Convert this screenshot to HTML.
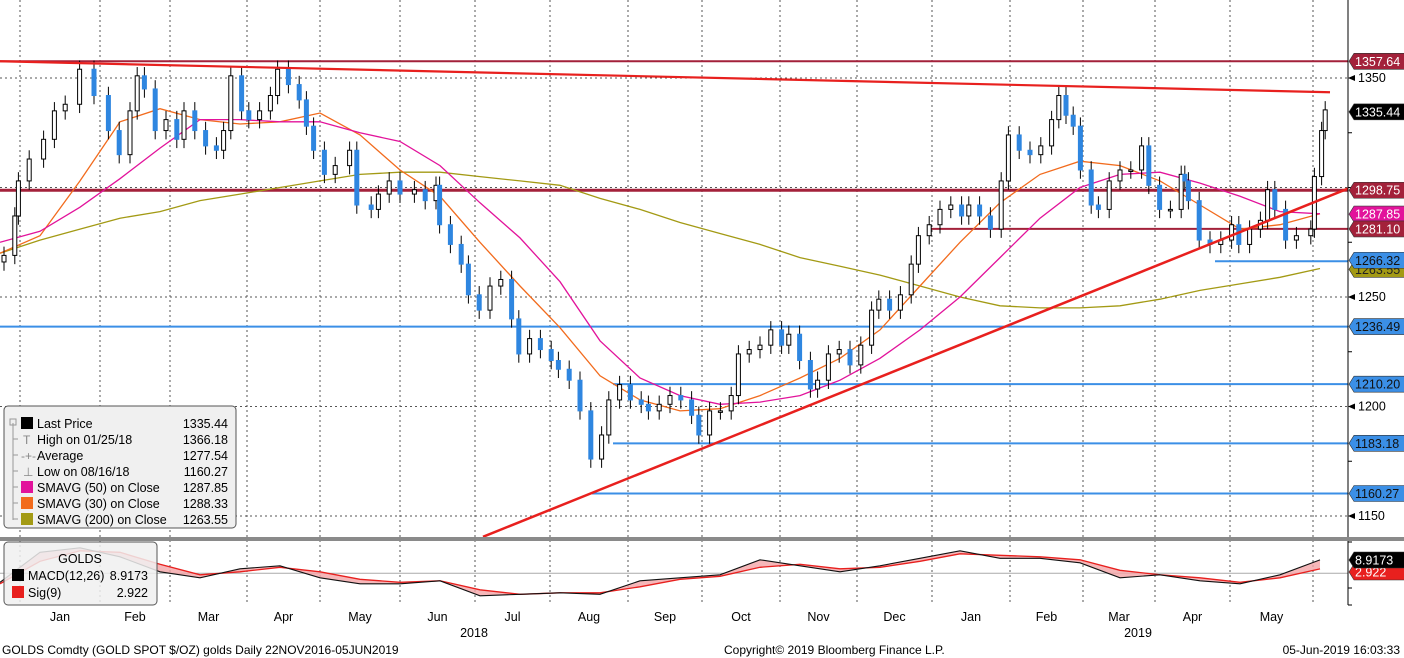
<!DOCTYPE html>
<html><head><meta charset="utf-8">
<style>
body{margin:0;background:#fff;}
svg{display:block;font-family:"Liberation Sans",sans-serif;}
</style></head>
<body>
<svg id="chart" width="1404" height="658" viewBox="0 0 1404 658" xmlns="http://www.w3.org/2000/svg">
<rect x="0" y="0" width="1404" height="658" fill="#fff"/>
<g id="grid"></g>
<g id="levels"></g>
<g id="mas"></g>
<g id="bars"></g>
<g id="trend"></g>
<g id="macd"></g>
<g id="axis"></g>
<g id="xaxis"></g>

<g>
  <rect x="4" y="406" width="232" height="122" rx="4" fill="#f0f0f0" stroke="#555" stroke-width="1"/>
  <path d="M13 423 V520 M13 439 h5 M13 455 h5 M13 471 h5 M13 487 h5 M13 503 h5 M13 519 h5" stroke="#999" stroke-width="1" fill="none"/>
  <rect x="10" y="419" width="6" height="6" fill="none" stroke="#999"/>
  <rect x="21" y="417" width="12" height="12" fill="#000"/>
  <text x="37" y="428" font-size="12.5">Last Price</text><text x="228" y="428" font-size="12.5" text-anchor="end">1335.44</text>
  <text x="23" y="444" font-size="12" fill="#888">T</text>
  <text x="37" y="444" font-size="12.5">High on 01/25/18</text><text x="228" y="444" font-size="12.5" text-anchor="end">1366.18</text>
  <text x="21" y="460" font-size="12" fill="#888">-+-</text>
  <text x="37" y="460" font-size="12.5">Average</text><text x="228" y="460" font-size="12.5" text-anchor="end">1277.54</text>
  <text x="23" y="476" font-size="12" fill="#888">⊥</text>
  <text x="37" y="476" font-size="12.5">Low on 08/16/18</text><text x="228" y="476" font-size="12.5" text-anchor="end">1160.27</text>
  <rect x="21" y="481" width="12" height="12" fill="#e2139b"/>
  <text x="37" y="492" font-size="12.5">SMAVG (50)  on Close</text><text x="228" y="492" font-size="12.5" text-anchor="end">1287.85</text>
  <rect x="21" y="497" width="12" height="12" fill="#f26b1d"/>
  <text x="37" y="508" font-size="12.5">SMAVG (30)  on Close</text><text x="228" y="508" font-size="12.5" text-anchor="end">1288.33</text>
  <rect x="21" y="513" width="12" height="12" fill="#a39a14"/>
  <text x="37" y="524" font-size="12.5">SMAVG (200)  on Close</text><text x="228" y="524" font-size="12.5" text-anchor="end">1263.55</text>
</g>

<g>
  <text x="2" y="654" font-size="12">GOLDS Comdty (GOLD SPOT $/OZ) golds  Daily 22NOV2016-05JUN2019</text>
  <text x="724" y="654" font-size="12">Copyright© 2019 Bloomberg Finance L.P.</text>
  <text x="1400" y="654" font-size="12" text-anchor="end">05-Jun-2019 16:03:33</text>
</g>
</svg>

<script>
// ---- data ----
const tradingDay = [0,3,4,7,11,14,17,21,25,29,32,35,37,39,42,45,48,50,53,56,59,61,63,66,68,71,74,76,79,82,84,86,89,92,96,98,102,104,107,110,114,117,120,121,124,127,129,132,135,138,141,143,146,149,152,154,157,160,163,166,168,171,174,177,179,182,185,188,191,193,196,199,202,204,207,210,213,216,218,221,224,226,229,232,235,238,241,243,246,249,252,254,257,260,263,266,268,271,274,277,279,282,285,288,291,293,295,297,299,302,304,307,310,313,316,318,321,324,327,328,329,332,335,338,341,343,346,349,351,353,356,359,363,364,366,367];
const closes = [1269,1287,1303,1313,1322,1335,1338,1354,1342,1326,1315,1335,1351,1345,1326,1331,1322,1335,1326,1319,1317,1326,1351,1335,1331,1335,1342,1354,1347,1340,1328,1317,1306,1310,1317,1292,1290,1297,1303,1297,1299,1294,1301,1283,1274,1265,1251,1244,1255,1258,1240,1224,1231,1226,1221,1217,1212,1198,1176,1187,1203,1210,1203,1201,1198,1201,1205,1203,1196,1187,1198,1198,1205,1224,1226,1228,1235,1228,1233,1221,1208,1212,1224,1226,1219,1228,1244,1249,1244,1251,1265,1278,1283,1290,1292,1287,1292,1287,1281,1303,1324,1317,1315,1319,1331,1342,1333,1328,1308,1292,1290,1303,1308,1308,1319,1301,1290,1290,1306,1303,1294,1276,1274,1276,1283,1274,1281,1285,1299,1290,1276,1278,1281,1305,1326,1335.44];
const sma200 = [1270,1276,1281,1286,1289,1294,1297,1300,1303,1306,1307,1307,1305,1303,1301,1295,1290,1284,1279,1274,1268,1264,1260,1255,1250,1246,1245,1245,1246,1249,1253,1256,1259,1263];
const sma30 = [1270,1278,1303,1330,1336,1331,1329,1330,1334,1324,1308,1296,1275,1255,1236,1214,1203,1198,1199,1205,1213,1222,1235,1255,1275,1293,1306,1312,1310,1303,1292,1281,1283,1288];
const sma50 = [1275,1280,1291,1304,1318,1331,1331,1330,1330,1325,1321,1310,1293,1277,1257,1230,1213,1205,1201,1202,1205,1212,1222,1235,1250,1268,1286,1300,1306,1307,1302,1296,1289,1288];
const macdVals = [-6,14,17,11,1,-3,3,5,-3,-7,-7,-5,-15,-14,-13,-14,-5,-3,-1,9,5,1,5,10,15,10,10,7,-3,-1,-5,-7,-1,8.9];
const sigVals = [-7,8,15,14,6,-1,1,4,1,-4,-6,-5,-11,-14,-13,-13,-9,-4,-2,4,6,3,4,8,13,12,11,9,2,-1,-3,-6,-3,2.9];
const months = ["Jan","Feb","Mar","Apr","May","Jun","Jul","Aug","Sep","Oct","Nov","Dec","Jan","Feb","Mar","Apr","May"];
const priceTicks = [1350,1250,1200,1150];
const levelsDark = [1357.64,1298.75,1281.10];
const levelsBlue = [1266.32,1236.49,1210.20,1183.18,1160.27];

// ---- scales ----
const NS="http://www.w3.org/2000/svg";
const AX=1348;
const py = p => 78 + (1350-p)*2.19;
const bx = d => 4 + d*3.6;
const mx = i => i*40;
const my = v => 573.3 - v*1.5;
const monthBounds=[20,100,170,247,320,400,475,550,628,702,780,857,932,1010,1083,1155,1230,1313];
function el(parent,tag,attrs){const e=document.createElementNS(NS,tag);for(const k in attrs)e.setAttribute(k,attrs[k]);parent.appendChild(e);return e;}
const G=id=>document.getElementById(id);

// grid
const grid=G('grid');
monthBounds.forEach(x=>{
  const l=el(grid,'line',{x1:x,x2:x,y1:0,y2:605,stroke:'#555','stroke-width':1,'stroke-dasharray':'2,3'});
  
  
});
[1350,1300,1250,1200,1150].forEach(p=>{
  const l=el(grid,'line',{x1:0,x2:AX,y1:py(p),y2:py(p),stroke:'#555','stroke-width':1,'stroke-dasharray':'2,3'});
  
  
});

// level lines
const lv=G('levels');
const darkStart=[0,0,928];
levelsDark.forEach((p,i)=>{
  const l=el(lv,'line',{x1:darkStart[i],x2:AX,y1:py(p),y2:py(p),stroke:'#a3213a','stroke-width':i==1?3:2});
  
  
});
const blueStart=[1215,0,613,613,592];
levelsBlue.forEach((p,i)=>{
  const l=el(lv,'line',{x1:blueStart[i],x2:AX,y1:py(p),y2:py(p),stroke:'#3b8fe6','stroke-width':2});
  
  
});

// moving averages
const ma=G('mas');
function poly(parent,arr,xf,yf,color,w,name){
  const pts=arr.map((v,i)=>xf(i).toFixed(1)+','+yf(v).toFixed(1)).join(' ');
  const l=el(parent,'polyline',{points:pts,fill:'none',stroke:color,'stroke-width':w});
  
  
  return l;
}
poly(ma,sma200,mx,py,'#a39a14',1.3,'sma-200-line');
poly(ma,sma30,mx,py,'#f26b1d',1.3,'sma-30-line');
poly(ma,sma50,mx,py,'#e2139b',1.3,'sma-50-line');

// bars
const bars=G('bars');
const n=Math.min(closes.length,tradingDay.length);
for(let i=0;i<n;i++){
  const c=closes[i];
  const o=i?closes[i-1]:c-3;
  const hi=Math.max(o,c)+4, lo=Math.min(o,c)-4;
  const x=bx(tradingDay[i]);
  const up=c>=o;
  const w=el(bars,'line',{x1:x,x2:x,y1:py(hi),y2:py(lo),stroke:'#000','stroke-width':1});
  
  
  const top=py(Math.max(o,c)), h=Math.max(1.5,py(Math.min(o,c))-top);
  const r=el(bars,'rect',{x:x-2,y:top,width:4,height:h,fill:up?'#fff':'#2f86e0',stroke:up?'#000':'#2f86e0','stroke-width':1});
  
  
}

// trend lines
const tr=G('trend');
let t=el(tr,'line',{x1:0,y1:py(1357.64),x2:1330,y2:py(1343.5),stroke:'#e8201e','stroke-width':2.2});


t=el(tr,'line',{x1:483,y1:py(1140.5),x2:AX,y2:py(1299.5),stroke:'#e8201e','stroke-width':2.5});



// macd panel
const mg=G('macd');
let sep=el(mg,'rect',{x:0,y:537,width:1404,height:4,fill:'#8a8a8a'});


let zl=el(mg,'line',{x1:0,x2:AX,y1:my(0),y2:my(0),stroke:'#aaa','stroke-width':1});


let fillPts=macdVals.map((v,i)=>mx(i)+','+my(v).toFixed(1)).concat(sigVals.map((v,i)=>mx(i)+','+my(v).toFixed(1)).reverse()).join(' ');
let fp=el(mg,'polygon',{points:fillPts,fill:'#f4a5a8',opacity:0.8});


poly(mg,sigVals,mx,my,'#e8201e',1.3,'signal-line');
poly(mg,macdVals,mx,my,'#111',1.1,'macd-line');
// macd legend
let lb=el(mg,'rect',{x:4,y:542,width:153,height:63,rx:4,fill:'#f0f0f0',stroke:'#555','fill-opacity':0.85});


[['GOLDS',80,563,'middle'],['MACD(12,26)',28,580,'start'],['8.9173',148,580,'end'],['Sig(9)',28,597,'start'],['2.922',148,597,'end']].forEach(a=>{
  const tx=el(mg,'text',{x:a[1],y:a[2],'font-size':12.5,'text-anchor':a[3]});tx.textContent=a[0];
  
  
});
el(mg,'rect',{x:12,y:569,width:12,height:12,fill:'#000'});
el(mg,'rect',{x:12,y:586,width:12,height:12,fill:'#e8201e'});

// right axis
const ax=G('axis');
el(ax,'line',{x1:AX,x2:AX,y1:0,y2:537,stroke:'#000','stroke-width':1});
el(ax,'line',{x1:AX,x2:AX,y1:541,y2:605,stroke:'#000','stroke-width':1});
[1325,1300,1275,1225,1175].forEach(p=>el(ax,'line',{x1:AX,x2:AX+4,y1:py(p),y2:py(p),stroke:'#000'}));
priceTicks.forEach(p=>{
  el(ax,'path',{d:`M${AX} ${py(p)} l7 -3 v6 z`,fill:'#000'});
  const tx=el(ax,'text',{x:1358,y:py(p)+4,'font-size':12.5});tx.textContent=p;
  
  
});
function tag(v,y,bg,fg,name){
  const g=el(ax,'g',{});
  
  
  el(g,'path',{d:`M${AX+1} ${y} l5 -8 h55 v16 h-55 z`,fill:bg,stroke:'#333','stroke-width':0.6});
  const tx=el(g,'text',{x:1355,y:y+4.5,'font-size':12.5,fill:fg});tx.textContent=v;
}
tag('1263.55',py(1263.55)+2,'#a39a14','#222','sma200-tag');
tag('1357.64',py(1357.64),'#a3213a','#fff','level-tag');
tag('1335.44',py(1335.44)+2,'#000','#fff','last-price-tag');
tag('1298.75',py(1298.75),'#a3213a','#fff','level-tag');
tag('1287.85',py(1287.85),'#e2139b','#fff','sma50-tag');
tag('1281.10',py(1281.10),'#a3213a','#fff','level-tag');
tag('1266.32',py(1266.32)-1,'#3b8fe6','#111','level-tag');
tag('1236.49',py(1236.49),'#3b8fe6','#111','level-tag');
tag('1210.20',py(1210.20),'#3b8fe6','#111','level-tag');
tag('1183.18',py(1183.18),'#3b8fe6','#111','level-tag');
tag('1160.27',py(1160.27),'#3b8fe6','#111','level-tag');
[542,588,605].forEach(y=>el(ax,'line',{x1:AX,x2:AX+4,y1:y,y2:y,stroke:'#000'}));
tag('2.922',572,'#e8201e','#fff','signal-tag');
tag('8.9173',560,'#000','#fff','macd-tag');

// x axis
const xa=G('xaxis');
months.forEach((m,i)=>{
  const cx=(monthBounds[i]+monthBounds[i+1])/2;
  const tx=el(xa,'text',{x:cx,y:621,'font-size':12.5,'text-anchor':'middle'});tx.textContent=m;
  
  
});
[['2018',474],['2019',1138]].forEach(a=>{
  const tx=el(xa,'text',{x:a[1],y:637,'font-size':12.5,'text-anchor':'middle'});tx.textContent=a[0];
  
  
});
</script>
</body></html>
